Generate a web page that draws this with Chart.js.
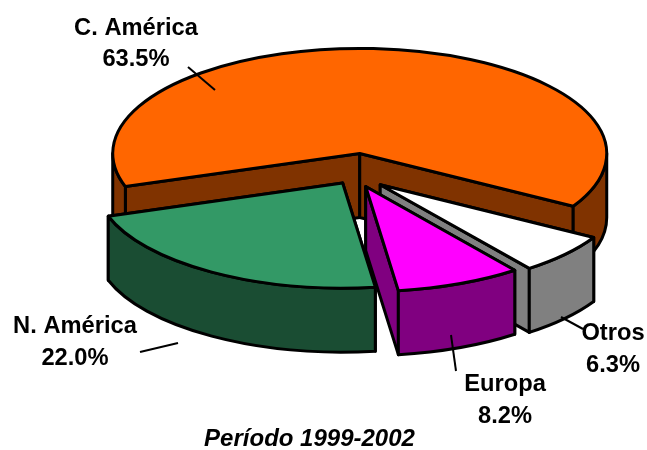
<!DOCTYPE html>
<html>
<head>
<meta charset="utf-8">
<style>html,body{margin:0;padding:0;background:#fff}canvas{display:block}</style>
<script src="https://cdn.jsdelivr.net/npm/chart.js@4"></script>
</head>
<body>
<canvas id="c" width="647" height="450"></canvas>
<script>
const categories = ['C. América', 'Otros', 'Europa', 'N. América'];
const shares = [63.5, 6.3, 8.2, 22.0];
const topColors = ['#FF6600', '#FFFFFF', '#FF00FF', '#339966'];
const sideColors = ['#803300', '#808080', '#800080', '#1A4D33'];
const titleText = 'Período 1999-2002';

const FONT = '"Liberation Sans", Arial, sans-serif';
const view = {cx: 354.5, cy: 175, rx: 247, ry: 105, depth: 64};
const labelSpots = [
  {x: 136, y: 28, ly: 31, line: [188, 67, 215, 90]},
  {x: 613, y: 333, ly: 32, line: [561, 317, 583, 329]},
  {x: 505, y: 384, ly: 32, line: [451, 335, 456, 371]},
  {x: 75, y: 326, ly: 32, line: [140, 352, 178, 343]}
];

const pie3d = {
  id: 'pie3d',
  beforeDatasetDraw(chart) {
    const ctx = chart.ctx;
    const arcs = chart.getDatasetMeta(0).data;
    ctx.save();
    ctx.lineWidth = 3;
    ctx.lineJoin = 'round';
    ctx.strokeStyle = '#000';
    arcs.forEach((arc, i) => {
      const a0 = arc.startAngle, a1 = arc.endAngle, r = arc.outerRadius;
      const sx = view.rx / r, sy = view.ry / r;
      const mid = (a0 + a1) / 2, d = arc.options.offset / 4;
      const px = view.cx + sx * d * Math.cos(mid);
      const py = view.cy + sy * d * Math.sin(mid);
      const rimX = a => px + view.rx * Math.cos(a);
      const rimY = a => py + view.ry * Math.sin(a);
      const side = sideColors[i];
      const paint = fill => { ctx.fillStyle = fill; ctx.fill(); ctx.stroke(); };
      // cut walls
      [a0, a1].forEach(a => {
        ctx.beginPath();
        ctx.moveTo(px, py);
        ctx.lineTo(rimX(a), rimY(a));
        ctx.lineTo(rimX(a), rimY(a) + view.depth);
        ctx.lineTo(px, py + view.depth);
        ctx.closePath();
        paint(side);
      });
      // outer wall, front half only
      for (let k = -2; k < 4; k++) {
        const s = Math.max(a0, 2 * Math.PI * k), e = Math.min(a1, 2 * Math.PI * k + Math.PI);
        if (e <= s) continue;
        ctx.beginPath();
        ctx.ellipse(px, py, view.rx, view.ry, 0, s, e, false);
        ctx.ellipse(px, py + view.depth, view.rx, view.ry, 0, e, s, true);
        ctx.closePath();
        paint(side);
      }
      // top face
      ctx.beginPath();
      ctx.moveTo(px, py);
      ctx.ellipse(px, py, view.rx, view.ry, 0, a0, a1, false);
      ctx.closePath();
      paint(arc.options.backgroundColor);
    });
    // leader lines and labels
    ctx.lineWidth = 2;
    ctx.fillStyle = '#000';
    ctx.font = 'bold 23.7px ' + FONT;
    ctx.textAlign = 'center';
    ctx.textBaseline = 'middle';
    labelSpots.forEach((s, i) => {
      ctx.beginPath();
      ctx.moveTo(s.line[0], s.line[1]);
      ctx.lineTo(s.line[2], s.line[3]);
      ctx.stroke();
      ctx.fillText(categories[i], s.x, s.y);
      ctx.fillText(shares[i].toFixed(1) + '%', s.x, s.y + s.ly);
    });
    ctx.restore();
    return false;
  }
};

new Chart(document.getElementById('c'), {
  type: 'pie',
  data: {
    labels: categories,
    datasets: [{
      data: shares,
      backgroundColor: topColors,
      borderColor: '#000',
      borderWidth: 2,
      offset: [123, 83, 71, 54]
    }]
  },
  options: {
    responsive: false,
    animation: false,
    rotation: 251.6,
    layout: {padding: {right: 28}},
    plugins: {
      legend: {display: false},
      tooltip: {enabled: false},
      title: {
        display: true,
        text: titleText,
        position: 'bottom',
        color: '#000',
        padding: {top: 2, bottom: -4},
        font: {family: FONT, size: 24, weight: 'bold', style: 'italic', lineHeight: 1.2}
      }
    }
  },
  plugins: [pie3d]
});
</script>
</body>
</html>
